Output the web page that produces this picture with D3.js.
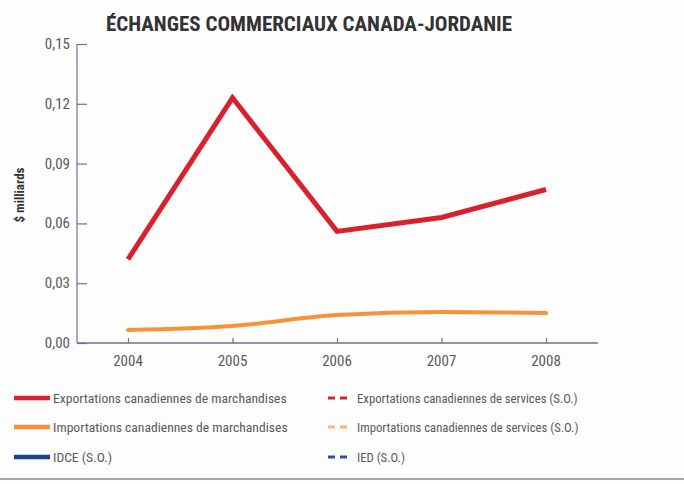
<!DOCTYPE html>
<html lang="fr">
<head>
<meta charset="utf-8">
<script src="https://cdn.jsdelivr.net/npm/d3@7"></script>
<style>
  html, body { margin: 0; padding: 0; background: #fdfdfd; }
  svg { display: block; }
  text { font-family: "Liberation Sans Narrow", "Roboto Condensed", "Liberation Sans", sans-serif; }
</style>
</head>
<body>
<svg id="chart" width="684" height="484"></svg>
<script>
// Années et valeurs (en milliards de dollars)
const years = [2004, 2005, 2006, 2007, 2008];
const exportsMarch = [0.042, 0.123, 0.056, 0.063, 0.077];
const importsMarch = [0.0065, 0.0085, 0.014, 0.0155, 0.015];
const yTicks = [0, 0.03, 0.06, 0.09, 0.12, 0.15];

const legendItems = [
  { label: "Exportations canadiennes de marchandises", color: "#d9212e", dashed: false },
  { label: "Exportations canadiennes de services (S.O.)", color: "#d9212e", dashed: true },
  { label: "Importations canadiennes de marchandises", color: "#f7923a", dashed: false },
  { label: "Importations canadiennes de services (S.O.)", color: "#f7b56e", dashed: true },
  { label: "IDCE (S.O.)", color: "#1f3f95", dashed: false },
  { label: "IED (S.O.)", color: "#2c4fa8", dashed: true }
];

const svg = d3.select("#chart");
const axisColor = "#6d7290";
const textColor = "#5a5a5a";

const x = d3.scalePoint().domain(years).range([128, 546]);
const y = d3.scaleLinear().domain([0, 0.15]).range([343, 44]);
const fmt = v => d3.format(".2f")(v).replace(".", ",");

// Titre
svg.append("text")
  .attr("x", 309).attr("y", 31)
  .attr("text-anchor", "middle")
  .attr("font-size", 21).attr("font-weight", "bold")
  .attr("fill", "#333")
  .text("ÉCHANGES COMMERCIAUX CANADA-JORDANIE");

// Axe vertical
const yAxis = svg.append("g").attr("transform", "translate(77,0)")
  .call(d3.axisRight(y).tickValues(yTicks).tickSize(10).tickFormat(""));
yAxis.select(".domain").attr("stroke", axisColor).attr("stroke-width", 1.2).attr("d", `M0,${y(0.15)}V${y(0)}`);
yAxis.selectAll(".tick line").attr("stroke", axisColor).attr("stroke-width", 1.2);

svg.append("g").selectAll("text").data(yTicks).join("text")
  .attr("x", 70).attr("y", d => y(d) + 5)
  .attr("text-anchor", "end")
  .attr("font-size", 15).attr("fill", textColor)
  .text(fmt);

// Libellé de l'axe vertical
svg.append("text")
  .attr("transform", "translate(24,195) rotate(-90)")
  .attr("text-anchor", "middle")
  .attr("font-size", 13).attr("font-weight", "bold").attr("fill", "#333")
  .text("$ milliards");

// Axe horizontal
const xAxis = svg.append("g").attr("transform", `translate(0,${y(0)})`)
  .call(d3.axisTop(x).tickSize(5).tickFormat(""));
xAxis.select(".domain").attr("stroke", axisColor).attr("stroke-width", 1.4).attr("d", "M77,0H598");
xAxis.selectAll(".tick line").attr("stroke", axisColor).attr("stroke-width", 1.2);

svg.append("g").selectAll("text").data(years).join("text")
  .attr("x", d => x(d)).attr("y", 366)
  .attr("text-anchor", "middle")
  .attr("font-size", 15).attr("fill", textColor)
  .text(d => d);

// Séries
const exportsLine = d3.line().x((d, i) => x(years[i])).y(d => y(d));
svg.append("path").datum(exportsMarch)
  .attr("d", exportsLine)
  .attr("fill", "none").attr("stroke", "#d9212e")
  .attr("stroke-width", 5).attr("stroke-linejoin", "miter");

const importsLine = d3.line().x((d, i) => x(years[i])).y(d => y(d)).curve(d3.curveMonotoneX);
svg.append("path").datum(importsMarch)
  .attr("d", importsLine)
  .attr("fill", "none").attr("stroke", "#f7923a")
  .attr("stroke-width", 4).attr("stroke-linecap", "round");

// Légende
const colX = [14, 328];
const rowY = [398, 427, 457];
const leg = svg.append("g").selectAll("g").data(legendItems).join("g")
  .attr("transform", (d, i) => `translate(${colX[i % 2]},${rowY[Math.floor(i / 2)]})`);
leg.each(function (d) {
  const g = d3.select(this);
  if (d.dashed) {
    g.append("line").attr("x1", 0).attr("x2", 20).attr("y1", 0).attr("y2", 0)
      .attr("stroke", d.color).attr("stroke-width", 3).attr("stroke-dasharray", "7,5");
    g.append("text").attr("x", 29).attr("y", 5)
      .attr("font-size", 12.7).attr("fill", textColor).text(d.label);
  } else {
    g.append("line").attr("x1", 0).attr("x2", 36).attr("y1", 0).attr("y2", 0)
      .attr("stroke", d.color).attr("stroke-width", 4.5);
    g.append("text").attr("x", 39).attr("y", 5)
      .attr("font-size", 13.6).attr("fill", textColor).text(d.label);
  }
});

// Filet inférieur
svg.append("line").attr("x1", 0).attr("x2", 684).attr("y1", 479).attr("y2", 479)
  .attr("stroke", "#888").attr("stroke-width", 1.5);
</script>
</body>
</html>
